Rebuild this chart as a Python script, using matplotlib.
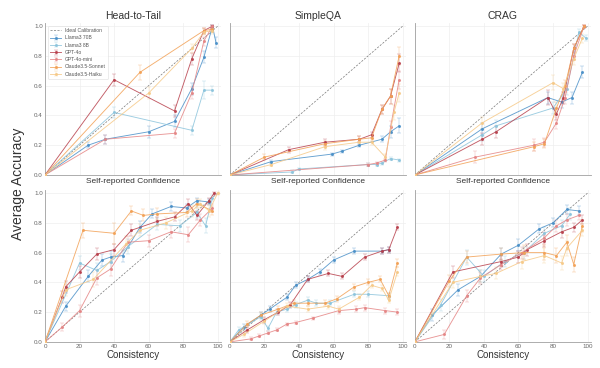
import matplotlib
matplotlib.use("Agg")
import matplotlib.pyplot as plt

plt.rcParams['font.family'] = ['Liberation Sans', 'DejaVu Sans']

#- Datos -#
modelos = ["Llama3 70B", "Llama3 8B", "GPT-4o", "GPT-4o-mini", "Claude3.5-Sonnet", "Claude3.5-Haiku"]
colores = ["#4a90c8", "#8cc4dc", "#b8404c", "#e58585", "#f2a156", "#f6c987"]
titulos = ["Head-to-Tail", "SimpleQA", "CRAG"]

# Fila superior: confianza auto-reportada (x, y, error)
htt_conf = {
    "Llama3 70B": ([0, 25, 35, 60, 75, 85, 92, 97, 99], [0, 0.20, 0.24, 0.29, 0.36, 0.58, 0.79, 1.0, 0.89], [0, 0.02, 0.03, 0.04, 0.04, 0.04, 0.04, 0.01, 0.04]),
    "Llama3 8B": ([0, 40, 85, 92, 97], [0, 0.42, 0.30, 0.57, 0.57], [0, 0.04, 0.03, 0.06, 0.03]),
    "GPT-4o": ([0, 40, 75, 85, 92, 97], [0, 0.64, 0.43, 0.78, 0.97, 1.0], [0, 0.04, 0.04, 0.04, 0.02, 0.01]),
    "GPT-4o-mini": ([0, 35, 75, 85, 92, 97], [0, 0.24, 0.28, 0.55, 0.90, 1.0], [0, 0.03, 0.03, 0.04, 0.03, 0.01]),
    "Claude3.5-Sonnet": ([0, 55, 92, 97], [0, 0.69, 0.97, 0.98], [0, 0.05, 0.02, 0.02]),
    "Claude3.5-Haiku": ([0, 60, 85, 92, 97], [0, 0.55, 0.85, 0.96, 0.97], [0, 0.04, 0.03, 0.02, 0.02]),
}
sqa_conf = {
    "Llama3 70B": ([0, 24, 59, 65, 75, 88, 93, 98], [0, 0.09, 0.14, 0.16, 0.20, 0.24, 0.29, 0.33], [0, 0.01, 0.01, 0.01, 0.01, 0.02, 0.04, 0.05]),
    "Llama3 8B": ([0, 36, 40, 80, 85, 88, 93, 98], [0, 0.02, 0.04, 0.07, 0.07, 0.08, 0.11, 0.10], [0, 0.01, 0.01, 0.01, 0.01, 0.01, 0.01, 0.01]),
    "GPT-4o": ([0, 34, 55, 75, 82, 88, 93, 98], [0, 0.17, 0.22, 0.24, 0.27, 0.44, 0.53, 0.75], [0, 0.02, 0.02, 0.02, 0.02, 0.03, 0.05, 0.06]),
    "GPT-4o-mini": ([0, 80, 85, 90, 93, 98], [0, 0.07, 0.08, 0.10, 0.32, 0.64], [0, 0.01, 0.01, 0.01, 0.04, 0.06]),
    "Claude3.5-Sonnet": ([0, 20, 55, 75, 82, 88, 93, 98], [0, 0.12, 0.21, 0.24, 0.25, 0.44, 0.53, 0.80], [0, 0.02, 0.02, 0.02, 0.02, 0.03, 0.05, 0.06]),
    "Claude3.5-Haiku": ([0, 24, 55, 75, 82, 90, 95, 98], [0, 0.07, 0.19, 0.22, 0.22, 0.12, 0.42, 0.55], [0, 0.01, 0.02, 0.02, 0.02, 0.02, 0.05, 0.06]),
}
crag_conf = {
    "Llama3 70B": ([0, 39, 77, 85, 91, 97], [0, 0.31, 0.52, 0.49, 0.52, 0.69], [0, 0.04, 0.04, 0.04, 0.04, 0.04]),
    "Llama3 8B": ([0, 39, 47, 80, 88, 95, 99], [0, 0.27, 0.33, 0.45, 0.58, 0.96, 0.92], [0, 0.04, 0.04, 0.04, 0.04, 0.02, 0.02]),
    "GPT-4o": ([0, 39, 47, 77, 82, 86, 92, 98], [0, 0.24, 0.29, 0.52, 0.41, 0.52, 0.85, 1.0], [0, 0.04, 0.04, 0.05, 0.04, 0.04, 0.03, 0.01]),
    "GPT-4o-mini": ([0, 35, 69, 75, 82, 87, 92, 98], [0, 0.12, 0.20, 0.22, 0.35, 0.52, 0.80, 1.0], [0, 0.04, 0.04, 0.03, 0.04, 0.04, 0.03, 0.01]),
    "Claude3.5-Sonnet": ([0, 69, 75, 82, 87, 92, 98], [0, 0.19, 0.21, 0.45, 0.60, 0.85, 1.0], [0, 0.03, 0.03, 0.04, 0.04, 0.03, 0.01]),
    "Claude3.5-Haiku": ([0, 39, 80, 86, 92, 97], [0, 0.35, 0.62, 0.58, 0.78, 0.92], [0, 0.04, 0.05, 0.04, 0.04, 0.03]),
}

# Fila inferior: consistencia (x, y, error)
htt_cons = {
    "Llama3 70B": ([0, 12, 25, 33, 38, 45, 55, 62, 73, 82, 88, 95], [0, 0.24, 0.44, 0.55, 0.57, 0.58, 0.77, 0.86, 0.91, 0.90, 0.95, 0.94], [0, 0.03, 0.04, 0.04, 0.04, 0.04, 0.04, 0.03, 0.03, 0.03, 0.02, 0.02]),
    "Llama3 8B": ([0, 20, 30, 38, 48, 65, 78, 88, 93, 97], [0, 0.53, 0.48, 0.54, 0.64, 0.79, 0.78, 0.87, 0.78, 0.97], [0, 0.05, 0.05, 0.05, 0.05, 0.04, 0.04, 0.04, 0.05, 0.02]),
    "GPT-4o": ([0, 10, 12, 20, 30, 40, 50, 65, 75, 83, 88, 95, 98], [0, 0.30, 0.37, 0.47, 0.59, 0.62, 0.75, 0.81, 0.84, 0.93, 0.85, 0.95, 1.0], [0, 0.04, 0.04, 0.04, 0.04, 0.04, 0.04, 0.03, 0.03, 0.03, 0.03, 0.02, 0.01]),
    "GPT-4o-mini": ([0, 10, 20, 30, 38, 48, 60, 73, 83, 90, 97], [0, 0.10, 0.21, 0.43, 0.49, 0.67, 0.68, 0.74, 0.72, 0.82, 0.90], [0, 0.03, 0.04, 0.05, 0.05, 0.04, 0.04, 0.04, 0.05, 0.04, 0.03]),
    "Claude3.5-Sonnet": ([0, 22, 40, 50, 57, 65, 82, 88, 97], [0, 0.75, 0.73, 0.88, 0.85, 0.86, 0.87, 0.93, 0.88], [0, 0.05, 0.07, 0.03, 0.04, 0.04, 0.03, 0.03, 0.03]),
    "Claude3.5-Haiku": ([0, 12, 28, 47, 55, 70, 85, 90, 95, 100], [0, 0.35, 0.42, 0.66, 0.75, 0.80, 0.88, 0.93, 0.88, 1.0], [0, 0.04, 0.05, 0.05, 0.04, 0.04, 0.04, 0.03, 0.04, 0.01]),
}
sqa_cons = {
    "Llama3 70B": ([0, 8, 18, 23, 33, 38, 45, 52, 60, 72, 88, 92], [0, 0.10, 0.18, 0.22, 0.30, 0.38, 0.42, 0.47, 0.55, 0.61, 0.61, 0.62], [0, 0.02, 0.02, 0.02, 0.02, 0.02, 0.02, 0.02, 0.02, 0.02, 0.02, 0.02]),
    "Llama3 8B": ([0, 5, 18, 22, 27, 33, 38, 45, 50, 58, 72, 80, 92], [0, 0.08, 0.17, 0.09, 0.20, 0.22, 0.25, 0.28, 0.26, 0.26, 0.32, 0.32, 0.31], [0, 0.02, 0.02, 0.02, 0.02, 0.02, 0.02, 0.02, 0.02, 0.02, 0.02, 0.02, 0.02]),
    "GPT-4o": ([0, 10, 20, 28, 35, 45, 57, 65, 78, 88, 92, 97], [0, 0.08, 0.15, 0.20, 0.25, 0.42, 0.46, 0.44, 0.57, 0.61, 0.62, 0.77], [0, 0.02, 0.02, 0.02, 0.02, 0.02, 0.02, 0.02, 0.02, 0.02, 0.02, 0.02]),
    "GPT-4o-mini": ([0, 12, 17, 22, 27, 33, 38, 48, 63, 73, 78, 90, 97], [0, 0.02, 0.04, 0.06, 0.08, 0.12, 0.13, 0.16, 0.21, 0.22, 0.23, 0.21, 0.20], [0, 0.01, 0.01, 0.01, 0.01, 0.01, 0.01, 0.01, 0.02, 0.02, 0.02, 0.02, 0.02]),
    "Claude3.5-Sonnet": ([0, 10, 18, 28, 37, 45, 55, 62, 72, 80, 87, 92, 97], [0, 0.12, 0.18, 0.22, 0.26, 0.26, 0.26, 0.29, 0.37, 0.40, 0.42, 0.31, 0.53], [0, 0.02, 0.02, 0.02, 0.02, 0.02, 0.02, 0.02, 0.02, 0.02, 0.02, 0.02, 0.03]),
    "Claude3.5-Haiku": ([0, 8, 20, 33, 45, 57, 63, 75, 82, 88, 92, 97], [0, 0.05, 0.14, 0.24, 0.22, 0.24, 0.22, 0.30, 0.38, 0.36, 0.28, 0.47], [0, 0.02, 0.02, 0.02, 0.02, 0.02, 0.02, 0.02, 0.02, 0.02, 0.02, 0.03]),
}
crag_cons = {
    "Llama3 70B": ([0, 10, 25, 38, 50, 60, 72, 80, 88, 95], [0, 0.18, 0.35, 0.44, 0.59, 0.65, 0.76, 0.80, 0.89, 0.88], [0, 0.04, 0.04, 0.04, 0.04, 0.04, 0.03, 0.03, 0.03, 0.03]),
    "Llama3 8B": ([0, 15, 30, 40, 52, 63, 75, 85, 90], [0, 0.25, 0.57, 0.44, 0.54, 0.60, 0.73, 0.78, 0.86], [0, 0.04, 0.05, 0.04, 0.04, 0.04, 0.04, 0.04, 0.04]),
    "GPT-4o": ([0, 22, 50, 60, 65, 75, 85, 92, 97], [0, 0.47, 0.54, 0.57, 0.62, 0.68, 0.74, 0.77, 0.82], [0, 0.04, 0.04, 0.04, 0.04, 0.04, 0.04, 0.03, 0.03]),
    "GPT-4o-mini": ([0, 17, 30, 38, 50, 62, 75, 82, 88, 95], [0, 0.05, 0.31, 0.43, 0.52, 0.60, 0.70, 0.78, 0.82, 0.85], [0, 0.03, 0.04, 0.04, 0.04, 0.04, 0.04, 0.04, 0.04, 0.03]),
    "Claude3.5-Sonnet": ([0, 20, 30, 50, 63, 75, 82, 88, 92, 97], [0, 0.41, 0.57, 0.59, 0.60, 0.60, 0.58, 0.67, 0.52, 0.78], [0, 0.04, 0.04, 0.04, 0.05, 0.05, 0.05, 0.05, 0.05, 0.04]),
    "Claude3.5-Haiku": ([0, 22, 38, 47, 62, 75, 85, 88, 97], [0, 0.40, 0.44, 0.46, 0.54, 0.58, 0.53, 0.63, 0.75], [0, 0.04, 0.04, 0.04, 0.05, 0.05, 0.05, 0.05, 0.04]),
}

paneles = [[htt_conf, sqa_conf, crag_conf], [htt_cons, sqa_cons, crag_cons]]
etiquetas_x = ["Self-reported Confidence", "Consistency"]
ticks_x = [0, 20, 40, 60, 80, 100]
ticks_y = [0.0, 0.2, 0.4, 0.6, 0.8, 1.0]

#- Figura -#
fig, axs = plt.subplots(2, 3, figsize=(6, 3.68), dpi=100)
fig.subplots_adjust(left=0.075, right=0.985, bottom=0.071, top=0.937, wspace=0.05, hspace=0.1)

for fila in range(2):
    for col in range(3):
        ax = axs[fila][col]
        datos = paneles[fila][col]
        ax.plot([0, 100], [0, 1], linestyle='--', color='#777777', lw=0.5, dashes=(3, 2),
                label='Ideal Calibration', zorder=2)
        for nombre, color in zip(modelos, colores):
            x, y, e = datos[nombre]
            lin = ax.errorbar(x, y, yerr=e, color=color, lw=0.65, marker='o', markersize=1.2,
                              elinewidth=0.35, capsize=1.2, capthick=0.35, alpha=0.85,
                              label=nombre, zorder=3)
            for parte in lin[1] + lin[2]:
                parte.set_alpha(0.6)
        ax.set_xlim(0, 102)
        ax.set_ylim(0, 1.02)
        ax.set_xticks(ticks_x)
        ax.set_yticks(ticks_y)
        ax.grid(color='#eeeeee', lw=0.5)
        ax.set_axisbelow(True)
        for lado in ['top', 'right']:
            ax.spines[lado].set_visible(False)
        for lado in ['left', 'bottom']:
            ax.spines[lado].set_color('#a0a0a0')
            ax.spines[lado].set_linewidth(0.6)
        ax.tick_params(length=0, labelsize=4.5, labelcolor='#666666', pad=1.5)
        if fila == 0:
            ax.set_xticklabels([])
            ax.set_title(titulos[col], fontsize=7.5, color='#333333', pad=3)
            ax.set_xlabel(etiquetas_x[0], fontsize=6, color='#333333', labelpad=1)
        else:
            ax.set_xlabel(etiquetas_x[1], fontsize=7, color='#333333', labelpad=1)
        ax.set_yticklabels(['0.0', '0.2', '0.4', '0.6', '0.8', '1.0'] if col == 0 else [])

leg = axs[0][0].legend(loc='upper left', fontsize=3.6, frameon=True, handlelength=2.2,
                       labelspacing=0.45, borderpad=0.5, labelcolor='#555555')
leg.get_frame().set_edgecolor('#dddddd')
leg.get_frame().set_linewidth(0.5)

fig.text(0.03, 0.5, "Average Accuracy", rotation=90, va='center', ha='center', fontsize=10, color='#333333')

fig.savefig("out.png", dpi=100)
